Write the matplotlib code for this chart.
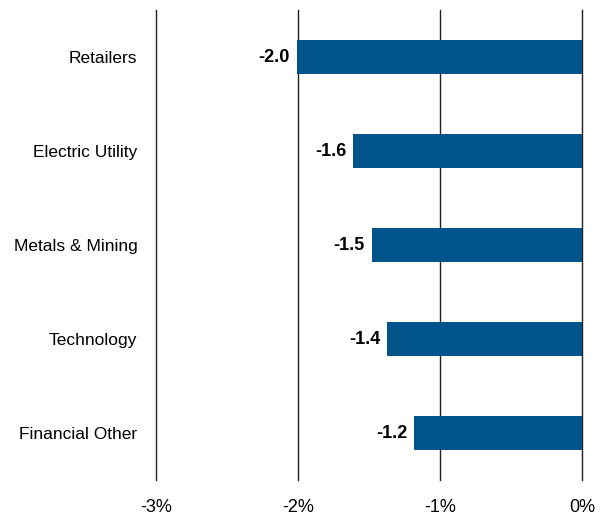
import matplotlib
matplotlib.use("Agg")
import matplotlib.pyplot as plt

# Data
categories = ["Retailers", "Electric Utility", "Metals & Mining", "Technology", "Financial Other"]
values = [-2.01, -1.61, -1.48, -1.37, -1.18]
labels = ["-2.0", "-1.6", "-1.5", "-1.4", "-1.2"]
xticks = [-3, -2, -1, 0]
xticklabels = ["-3%", "-2%", "-1%", "0%"]

plt.rcParams["font.family"] = ["Liberation Sans", "DejaVu Sans"]

fig = plt.figure(figsize=(6.13, 5.15), dpi=100)
ax = fig.add_axes([156 / 613, 1 - 480 / 515, (582 - 156) / 613, 470 / 515])

y = list(range(len(categories)))
ax.barh(y, values, height=0.37, color="#00548A", zorder=3)

# value labels just left of each bar
for yi, v, lab in zip(y, values, labels):
    ax.text(v - 0.05, yi, lab, ha="right", va="center", fontsize=13,
            fontweight="bold", color="black")

ax.set_xlim(-3, 0)
ax.set_ylim(len(categories) - 0.5, -0.5)
ax.set_yticks(y)
ax.set_yticklabels(categories, fontsize=12.5)
ax.set_xticks(xticks)
ax.set_xticklabels(xticklabels, fontsize=13)
ax.tick_params(axis="both", length=0)
ax.tick_params(axis="y", pad=13.5)
ax.tick_params(axis="x", pad=14)

for s in ax.spines.values():
    s.set_visible(False)
for xt in xticks:
    ax.axvline(xt, color="#222222", linewidth=1.0, zorder=1, clip_on=False)

fig.savefig("out.png", dpi=100)
